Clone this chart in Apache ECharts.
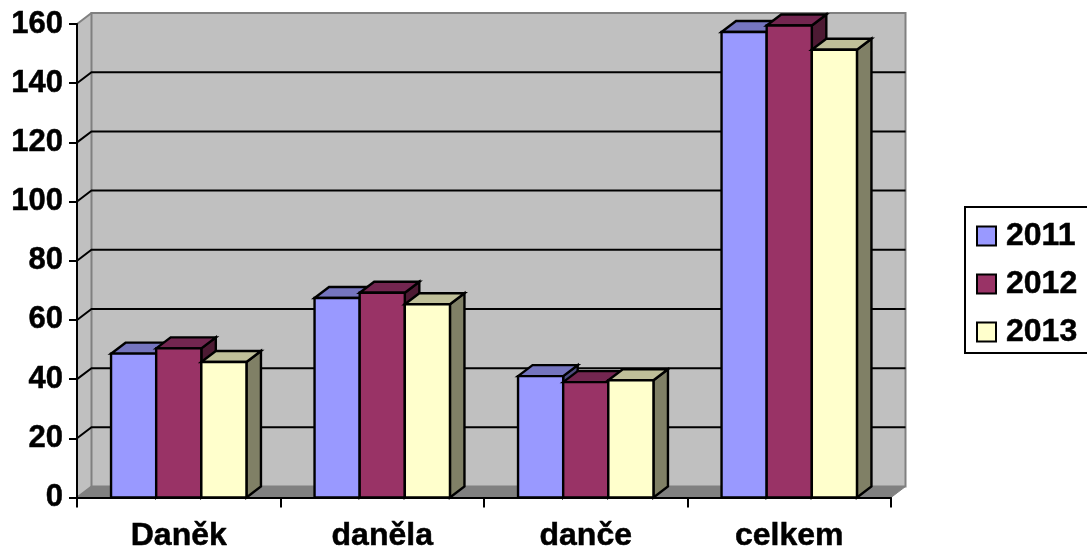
<!DOCTYPE html>
<html><head><meta charset="utf-8">
<style>html,body{margin:0;padding:0;background:#fff}#c{width:1087px;height:551px}</style>
<script src="https://cdn.jsdelivr.net/npm/echarts@6/dist/echarts.min.js"></script>
</head><body><div id="c"></div>
<script>
const categories = ['Daněk','daněla','danče','celkem'];
const years = ['2011','2012','2013'];
const values2011 = [48.6,67.4,41,157.3];
const values2012 = [50.4,69.2,39,159.5];
const values2013 = [45.8,65.3,39.6,151.3];
const yTicks = [0,20,40,60,80,100,120,140,160];
const frontColors = ['#9999ff','#993366','#ffffcc'];
const topColors = ['#7575bf','#732650','#bfbf99'];
const sideColors = ['#4d4d80','#4d1a33','#808066'];
const DX = 14.5, DY = -11, BAR_SHARE = 0.2218, FONT = '"Liberation Sans", Arial, sans-serif';

function poly(points, fill, stroke, lw){
  return {type:'polygon', shape:{points}, style:{fill, stroke:stroke||'#000', lineWidth:lw==null?2.4:lw, lineJoin:'miter'}};
}
function barSeries(name, values, idx){
  return {
    type:'custom', name, coordinateSystem:'cartesian2d', z:3,
    itemStyle:{color:frontColors[idx], borderColor:'#000', borderWidth:2},
    data: values.map((v,i)=>[i,v]),
    renderItem(params, api){
      const cat = api.value(0), val = api.value(1);
      const base = api.coord([cat,0]), top = api.coord([cat,val]);
      const w = api.size([1,0])[0]*BAR_SHARE;
      const x0 = base[0] + (idx-1.5)*w, x1 = x0+w, y0 = top[1], y1 = base[1];
      return {type:'group', children:[
        poly([[x1,y0],[x1+DX,y0+DY],[x1+DX,y1+DY],[x1,y1]], sideColors[idx]),
        poly([[x0,y0],[x0+DX,y0+DY],[x1+DX,y0+DY],[x1,y0]], topColors[idx]),
        poly([[x0,y0],[x1,y0],[x1,y1],[x0,y1]], frontColors[idx])
      ]};
    }
  };
}
const wallSeries = {
  type:'custom', silent:true, z:1, data:[[0,0]],
  renderItem(params){
    const c = params.coordSys, l=c.x, r=c.x+c.width, t=c.y, b=c.y+c.height;
    return {type:'group', children:[
      poly([[l,t],[l+DX,t+DY],[l+DX,b+DY],[l,b]], '#c0c0c0', '#c0c0c0', 1),
      poly([[l+DX,t+DY],[r+DX,t+DY],[r+DX,b+DY],[l+DX,b+DY]], '#c0c0c0', '#808080', 2),
      poly([[l,b],[l+DX,b+DY],[r+DX,b+DY],[r,b]], '#808080', '#808080', 1)
    ]};
  }
};
const gridSeries = {
  type:'custom', silent:true, z:2, data:yTicks.map(v=>[0,v]),
  renderItem(params, api){
    const c = params.coordSys, v = api.value(1), y = api.coord([0,v])[1], l=c.x, r=c.x+c.width;
    const edge = v===0 || v===160;
    const pts = edge ? [[l,y],[l+DX,y+DY]] : [[l,y],[l+DX,y+DY],[r+DX,y+DY]];
    return {type:'polyline', shape:{points:pts}, style:{fill:null, stroke:edge?'#808080':'#000', lineWidth:2}};
  }
};
const chart = echarts.init(document.getElementById('c'), null, {renderer:'canvas'});
chart.setOption({
  animation:false,
  backgroundColor:'#fff',
  grid:{left:77, top:24, width:814, height:473.5, outerBoundsMode:'none'},
  xAxis:{type:'category', data:categories, z:5,
    axisLine:{lineStyle:{color:'#000',width:2}},
    axisTick:{show:true, length:10, alignWithLabel:false, lineStyle:{color:'#000',width:2}},
    axisLabel:{color:'#000', fontFamily:FONT, fontWeight:'bold', fontSize:32, margin:23, interval:0,
      textBorderColor:'#000', textBorderWidth:0.5},
    splitLine:{show:false}},
  yAxis:{type:'value', min:0, max:160, interval:20, z:5,
    axisLine:{show:true, lineStyle:{color:'#000',width:2}},
    axisTick:{show:true, length:8, lineStyle:{color:'#000',width:2}},
    axisLabel:{color:'#000', fontFamily:FONT, fontWeight:'bold', fontSize:31, margin:14, padding:[4,0,0,0], formatter:v=>String(v),
      textBorderColor:'#000', textBorderWidth:0.5},
    splitLine:{show:false}},
  legend:{data:years, orient:'vertical', left:965, top:207, icon:'rect', itemWidth:19, itemHeight:19, itemGap:12,
    padding:[11,14,3,11], borderColor:'#000', borderWidth:2, backgroundColor:'#fff', selectedMode:false,
    textStyle:{color:'#000', fontFamily:FONT, fontWeight:'bold', fontSize:32, lineHeight:32, padding:[4,0,0,5],
      textBorderColor:'#000', textBorderWidth:0.5}},
  series:[wallSeries, gridSeries,
    barSeries(years[0],values2011,0), barSeries(years[1],values2012,1), barSeries(years[2],values2013,2)]
});
</script></body></html>
